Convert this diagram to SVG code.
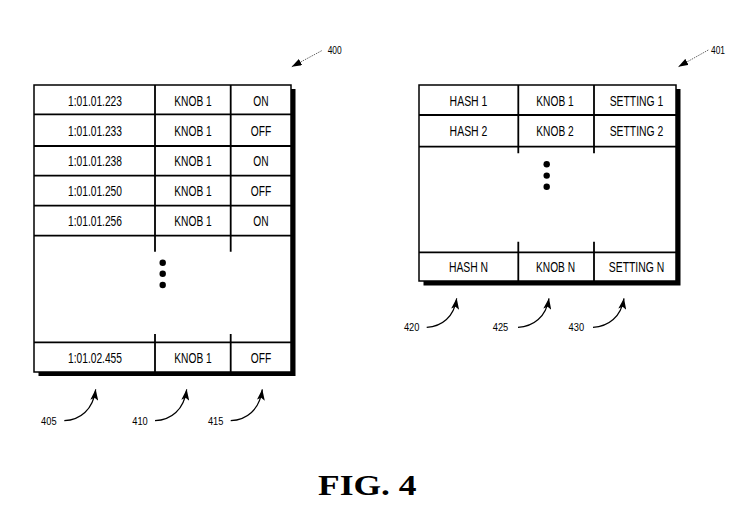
<svg xmlns="http://www.w3.org/2000/svg" width="743" height="527" viewBox="0 0 743 527">
<style>
.cell{font-family:"Liberation Sans",Arial,sans-serif;font-size:14px;text-anchor:middle;fill:#000}
.lbl{font-family:"Liberation Sans",Arial,sans-serif;font-size:11.5px;text-anchor:middle;fill:#000}
.fig{font-family:"Liberation Serif","Times New Roman",serif;font-size:29px;font-weight:bold;fill:#000}
.frame{fill:#fff;stroke:#000;stroke-width:1.5}
.shadow{fill:#000}
.grid{stroke:#000;stroke-width:1.8;fill:none}
.curve{stroke:#000;stroke-width:1.2;fill:none;marker-end:url(#ah)}
.lead{stroke:#555;stroke-width:0.9;stroke-dasharray:1.5 1;fill:none;marker-end:url(#ah2)}
.dot{fill:#000}
</style>
<defs>
<marker id="ah" markerUnits="userSpaceOnUse" markerWidth="11" markerHeight="8" refX="11" refY="4" orient="auto">
<path d="M0,0 L11,4 L0,8 L2.5,4 z" fill="#000"/>
</marker>
<marker id="ah2" markerUnits="userSpaceOnUse" markerWidth="10" markerHeight="7" refX="10" refY="3.5" orient="auto">
<path d="M0,0 L10,3.5 L0,7 z" fill="#000"/>
</marker>
</defs>
<rect width="743" height="527" fill="#fff"/>

<g id="table-400">
<rect class="shadow" x="38.5" y="89" width="257" height="287"/>
<rect class="frame" x="34" y="85" width="257" height="287"/>
<path class="grid" d="M34,114.3H291 M34,146H291 M34,175.7H291 M34,205.7H291 M34,235.7H291 M34,342.3H291 M155,85V251.7 M230.7,85V251.7 M155,334V372 M230.7,334V372"/>
<text class="cell" x="95" y="106.3" textLength="54" lengthAdjust="spacingAndGlyphs">1:01.01.223</text>
<text class="cell" x="193" y="106.3" textLength="37.4" lengthAdjust="spacingAndGlyphs">KNOB 1</text>
<text class="cell" x="261" y="106.3" textLength="15.3" lengthAdjust="spacingAndGlyphs">ON</text>
<text class="cell" x="95" y="136" textLength="54" lengthAdjust="spacingAndGlyphs">1:01.01.233</text>
<text class="cell" x="193" y="136" textLength="37.4" lengthAdjust="spacingAndGlyphs">KNOB 1</text>
<text class="cell" x="261" y="136" textLength="20.4" lengthAdjust="spacingAndGlyphs">OFF</text>
<text class="cell" x="95" y="166" textLength="54" lengthAdjust="spacingAndGlyphs">1:01.01.238</text>
<text class="cell" x="193" y="166" textLength="37.4" lengthAdjust="spacingAndGlyphs">KNOB 1</text>
<text class="cell" x="261" y="166" textLength="15.3" lengthAdjust="spacingAndGlyphs">ON</text>
<text class="cell" x="95" y="196" textLength="54" lengthAdjust="spacingAndGlyphs">1:01.01.250</text>
<text class="cell" x="193" y="196" textLength="37.4" lengthAdjust="spacingAndGlyphs">KNOB 1</text>
<text class="cell" x="261" y="196" textLength="20.4" lengthAdjust="spacingAndGlyphs">OFF</text>
<text class="cell" x="95" y="226" textLength="54" lengthAdjust="spacingAndGlyphs">1:01.01.256</text>
<text class="cell" x="193" y="226" textLength="37.4" lengthAdjust="spacingAndGlyphs">KNOB 1</text>
<text class="cell" x="261" y="226" textLength="15.3" lengthAdjust="spacingAndGlyphs">ON</text>
<circle class="dot" cx="162.7" cy="262.7" r="3.2"/>
<circle class="dot" cx="162.7" cy="273.8" r="3.2"/>
<circle class="dot" cx="162.7" cy="285" r="3.2"/>
<text class="cell" x="95" y="362.5" textLength="54" lengthAdjust="spacingAndGlyphs">1:01.02.455</text>
<text class="cell" x="193" y="362.5" textLength="37.4" lengthAdjust="spacingAndGlyphs">KNOB 1</text>
<text class="cell" x="261" y="362.5" textLength="20.4" lengthAdjust="spacingAndGlyphs">OFF</text>
</g>

<g id="table-401">
<rect class="shadow" x="423.5" y="89" width="257" height="196.5"/>
<rect class="frame" x="419" y="85" width="257" height="196"/>
<path class="grid" d="M419,115H676 M419,146.7H676 M419,252.3H676 M518.3,85V153.3 M594,85V153.3 M518.3,241.7V281 M594,241.7V281"/>
<text class="cell" x="468.5" y="105.7" textLength="37.8" lengthAdjust="spacingAndGlyphs">HASH 1</text>
<text class="cell" x="555" y="105.7" textLength="37.4" lengthAdjust="spacingAndGlyphs">KNOB 1</text>
<text class="cell" x="636.5" y="105.7" textLength="53.7" lengthAdjust="spacingAndGlyphs">SETTING 1</text>
<text class="cell" x="468.5" y="135.5" textLength="37.8" lengthAdjust="spacingAndGlyphs">HASH 2</text>
<text class="cell" x="555" y="135.5" textLength="37.4" lengthAdjust="spacingAndGlyphs">KNOB 2</text>
<text class="cell" x="636.5" y="135.5" textLength="53.7" lengthAdjust="spacingAndGlyphs">SETTING 2</text>
<circle class="dot" cx="546.7" cy="164.3" r="3.2"/>
<circle class="dot" cx="546.7" cy="175.6" r="3.2"/>
<circle class="dot" cx="546.7" cy="186.8" r="3.2"/>
<text class="cell" x="468.5" y="271.5" textLength="39.2" lengthAdjust="spacingAndGlyphs">HASH N</text>
<text class="cell" x="555.5" y="271.5" textLength="39" lengthAdjust="spacingAndGlyphs">KNOB N</text>
<text class="cell" x="636.5" y="271.5" textLength="55.5" lengthAdjust="spacingAndGlyphs">SETTING N</text>
</g>

<g id="label-400"><text class="lbl" x="334.7" y="53.5" textLength="14" lengthAdjust="spacingAndGlyphs">400</text></g>
<g id="label-401"><text class="lbl" x="718" y="53.5" textLength="14" lengthAdjust="spacingAndGlyphs">401</text></g>
<g id="label-405"><text class="lbl" x="48.8" y="425" textLength="15.5" lengthAdjust="spacingAndGlyphs">405</text></g>
<g id="label-410"><text class="lbl" x="140" y="425" textLength="15.5" lengthAdjust="spacingAndGlyphs">410</text></g>
<g id="label-415"><text class="lbl" x="215.7" y="425" textLength="15.5" lengthAdjust="spacingAndGlyphs">415</text></g>
<g id="label-420"><text class="lbl" x="411.7" y="331" textLength="15.5" lengthAdjust="spacingAndGlyphs">420</text></g>
<g id="label-425"><text class="lbl" x="500.5" y="331" textLength="15.5" lengthAdjust="spacingAndGlyphs">425</text></g>
<g id="label-430"><text class="lbl" x="576.3" y="331" textLength="15.5" lengthAdjust="spacingAndGlyphs">430</text></g>

<g id="connectors">
<path class="lead" d="M321.7,50.7 L291.7,66.8"/>
<path class="lead" d="M708.3,50 L678.3,66.8"/>
<path class="curve" d="M64.3,420.7 C80,420 93,410 95.7,389.3"/>
<path class="curve" d="M155,420.7 C171,420 184,410 186.7,389.3"/>
<path class="curve" d="M230.7,420.7 C246.7,420 259.5,410 262.3,389.3"/>
<path class="curve" d="M426.7,327.3 C442,326.5 454,317 456.7,298.3"/>
<path class="curve" d="M518,327.3 C533.5,326.5 546,317 549,298.3"/>
<path class="curve" d="M593,327.3 C608.5,326.5 621,317 624,298.3"/>
</g>

<g id="caption"><text class="fig" x="318" y="495" textLength="98.5" lengthAdjust="spacingAndGlyphs">FIG. 4</text></g>
</svg>
